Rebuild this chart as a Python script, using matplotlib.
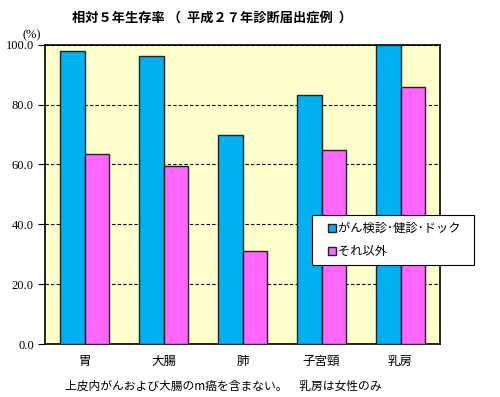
import matplotlib
matplotlib.use("Agg")
import matplotlib.pyplot as plt
from matplotlib.lines import Line2D
import numpy as np

plt.rcParams['font.family'] = ['Noto Sans CJK JP', 'DejaVu Sans']

# data
categories = ['胃', '大腸', '肺', '子宮頸', '乳房']
kenshin = [97.8, 96.3, 69.8, 83.2, 100.0]
sonota = [63.4, 59.4, 31.2, 64.8, 85.9]
series_names = ['がん検診･健診･ドック', 'それ以外']
yticks = [0, 20, 40, 60, 80, 100]
colors = ['#00B0F0', '#FF66FF']

fig = plt.figure(figsize=(5, 3.97), dpi=100)
ax = fig.add_axes([0.09, 0.1335, 0.79, 0.754])
ax.set_facecolor('#FFFFCC')

x = np.arange(len(categories))
w = 0.316
ax.bar(x - w/2, kenshin, w, color=colors[0], edgecolor='#222222', linewidth=1, zorder=3)
ax.bar(x + w/2, sonota, w, color=colors[1], edgecolor='#222222', linewidth=1, zorder=3)

ax.set_xlim(-0.5, len(categories) - 0.5)
ax.set_ylim(0, 100)
ax.set_yticks(yticks)
ax.set_yticklabels(['%.1f' % v for v in yticks], family='Liberation Serif', fontsize=9)
ax.set_xticks(x)
ax.set_xticklabels(categories, fontsize=9)
ax.tick_params(axis='x', length=0, pad=8)
ax.tick_params(axis='y', length=5, direction='out', pad=3)
ax.yaxis.grid(True, linestyle=(0, (3, 2)), color='black', linewidth=0.8, zorder=1)
for s in ax.spines.values():
    s.set_linewidth(1.2)

handles = [Line2D([], [], marker='s', linestyle='none', markersize=5.5,
                  markerfacecolor=c, markeredgecolor='#222222', markeredgewidth=1)
           for c in colors]
leg = ax.legend(handles, [n + '  ' for n in series_names],
                loc='upper left', bbox_to_anchor=(0.676, 0.431), fontsize=8.8,
                frameon=True, fancybox=False, edgecolor='black', framealpha=1,
                handlelength=2.05, handletextpad=-0.5, numpoints=1,
                labelspacing=0.8, borderpad=0.6, borderaxespad=0)
leg.get_frame().set_linewidth(0.8)

fig.text(0.144, 0.955, '相対５年生存率 （  平成２７年診断届出症例  ）', fontsize=9.5,
         fontweight='bold', va='center')
fig.text(0.045, 0.91, '(%)', family='Liberation Serif', fontsize=9, va='center')
fig.text(0.13, 0.028, '上皮内がんおよび大腸のm癌を含まない。　乳房は女性のみ',
         fontsize=8.5, va='center')

fig.savefig('out.png', dpi=100)
